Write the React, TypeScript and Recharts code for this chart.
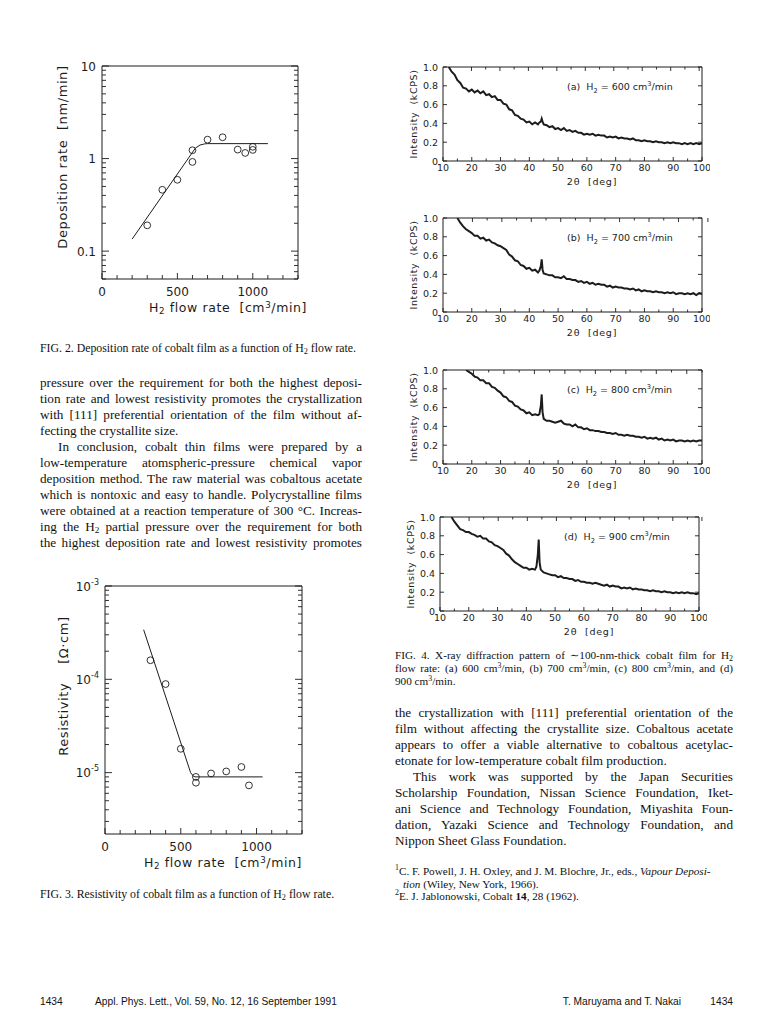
import React from 'react'
import { ComposedChart, LineChart, Line, Scatter, XAxis, YAxis } from 'recharts'

const INK = '#1c1c1c'
const SANS = '"DejaVu Sans", Verdana, sans-serif'
const SERIF = '"Liberation Serif", "Times New Roman", serif'
const FOOT = '"Liberation Sans", Arial, sans-serif'

// FIG. 2 – deposition rate vs H2 flow rate
const depFlow = [300, 400, 500, 600, 600, 700, 800, 900, 950, 1000, 1000]
const depRate = [0.19, 0.46, 0.59, 1.23, 0.92, 1.6, 1.7, 1.25, 1.15, 1.24, 1.34]
const depFitFlow = [200, 620, 650, 680, 700, 1100]
const depFitRate = [0.135, 1.3, 1.4, 1.44, 1.45, 1.45]
const depTicks = [0.05, 0.06, 0.07, 0.08, 0.09, 0.1, 0.2, 0.3, 0.4, 0.5, 0.6, 0.7, 0.8, 0.9, 1, 2, 3, 4, 5, 6, 7, 8, 9, 10]
const depLabels = [0.1, 1, 10]

// FIG. 3 – resistivity vs H2 flow rate
const resFlow = [300, 400, 500, 600, 600, 700, 800, 900, 950]
const resVal = [1.6e-4, 8.9e-5, 1.8e-5, 9.0e-6, 7.8e-6, 9.8e-6, 1.03e-5, 1.15e-5, 7.3e-6]
const resFitFlow = [255, 565, 585, 600, 1040]
const resFitVal = [3.4e-4, 1.0e-5, 9.1e-6, 9.0e-6, 9.0e-6]
const resTicks = [3e-6, 4e-6, 5e-6, 6e-6, 7e-6, 8e-6, 9e-6, 1e-5, 2e-5, 3e-5, 4e-5, 5e-5, 6e-5, 7e-5, 8e-5, 9e-5, 1e-4, 2e-4, 3e-4, 4e-4, 5e-4, 6e-4, 7e-4, 8e-4, 9e-4, 1e-3]
const resLabels = [1e-5, 1e-4, 1e-3]

const flowTicks = [0, 100, 200, 300, 400, 500, 600, 700, 800, 900, 1000, 1100, 1200, 1300]
const flowLabels = [0, 500, 1000]

// FIG. 4 – XRD patterns, [2θ (deg), intensity (kCPS)]
const xrdA: [number, number][] = [
  [12, 1.0], [13, 0.95], [14, 0.92], [15, 0.86], [16, 0.83], [17, 0.78], [18, 0.77], [19, 0.74], [20, 0.76], [21, 0.73],
  [22, 0.75], [23, 0.72], [24, 0.74], [25, 0.7], [26, 0.71], [27, 0.68], [28, 0.69], [29, 0.65], [30, 0.65], [31, 0.61],
  [32, 0.6], [33, 0.55], [34, 0.54], [35, 0.49], [36, 0.48], [37, 0.45], [38, 0.44], [39, 0.41], [40, 0.42], [41, 0.39],
  [42, 0.41], [43, 0.39], [43.5, 0.41], [44, 0.42], [44.3, 0.45], [44.6, 0.42], [45, 0.39], [46, 0.38], [47, 0.36], [48, 0.37],
  [49, 0.34], [50, 0.35], [51, 0.33], [52, 0.35], [53, 0.32], [54, 0.33], [55, 0.31], [56, 0.32], [57, 0.3], [58, 0.3],
  [59, 0.28], [60, 0.29], [61, 0.28], [62, 0.29], [63, 0.27], [64, 0.28], [65, 0.27], [66, 0.27], [67, 0.25], [68, 0.26],
  [69, 0.25], [70, 0.26], [71, 0.24], [72, 0.25], [73, 0.24], [74, 0.24], [75, 0.23], [76, 0.24], [77, 0.22], [78, 0.22],
  [79, 0.21], [80, 0.22], [81, 0.21], [82, 0.21], [83, 0.2], [84, 0.21], [85, 0.2], [86, 0.2], [87, 0.19], [88, 0.2],
  [89, 0.19], [90, 0.2], [91, 0.19], [92, 0.19], [93, 0.18], [94, 0.19], [95, 0.18], [96, 0.19], [97, 0.18], [98, 0.19],
  [99, 0.18], [100, 0.19],
]
const xrdB: [number, number][] = [
  [15, 1.0], [16, 0.95], [17, 0.91], [18, 0.88], [19, 0.86], [20, 0.84], [21, 0.81], [22, 0.81], [23, 0.78], [24, 0.79],
  [25, 0.76], [26, 0.77], [27, 0.74], [28, 0.73], [29, 0.71], [30, 0.7], [31, 0.68], [32, 0.66], [33, 0.61], [34, 0.59],
  [35, 0.55], [36, 0.54], [37, 0.5], [38, 0.49], [39, 0.46], [40, 0.47], [41, 0.44], [42, 0.45], [43, 0.42], [43.5, 0.44],
  [44, 0.49], [44.3, 0.56], [44.6, 0.45], [45, 0.41], [46, 0.4], [47, 0.39], [48, 0.39], [49, 0.37], [50, 0.37], [51, 0.36],
  [52, 0.38], [53, 0.35], [54, 0.35], [55, 0.34], [56, 0.34], [57, 0.32], [58, 0.33], [59, 0.31], [60, 0.32], [61, 0.3],
  [62, 0.31], [63, 0.29], [64, 0.3], [65, 0.29], [66, 0.29], [67, 0.27], [68, 0.28], [69, 0.26], [70, 0.27], [71, 0.26],
  [72, 0.26], [73, 0.25], [74, 0.25], [75, 0.24], [76, 0.25], [77, 0.23], [78, 0.24], [79, 0.22], [80, 0.23], [81, 0.22],
  [82, 0.22], [83, 0.21], [84, 0.22], [85, 0.21], [86, 0.21], [87, 0.2], [88, 0.21], [89, 0.2], [90, 0.21], [91, 0.19],
  [92, 0.2], [93, 0.2], [94, 0.19], [95, 0.2], [96, 0.19], [97, 0.2], [98, 0.18], [99, 0.2], [100, 0.19],
]
const xrdC: [number, number][] = [
  [18, 1.0], [19, 0.98], [20, 0.96], [21, 0.93], [22, 0.92], [23, 0.89], [24, 0.89], [25, 0.86], [26, 0.86], [27, 0.82],
  [28, 0.81], [29, 0.78], [30, 0.76], [31, 0.72], [32, 0.71], [33, 0.67], [34, 0.66], [35, 0.62], [36, 0.61], [37, 0.58],
  [38, 0.57], [39, 0.54], [40, 0.55], [41, 0.52], [42, 0.53], [43, 0.52], [43.5, 0.53], [44, 0.62], [44.3, 0.74], [44.6, 0.55],
  [45, 0.48], [46, 0.46], [47, 0.46], [48, 0.45], [49, 0.44], [50, 0.45], [51, 0.46], [52, 0.43], [53, 0.42], [54, 0.42],
  [55, 0.4], [56, 0.42], [57, 0.39], [58, 0.39], [59, 0.37], [60, 0.38], [61, 0.36], [62, 0.36], [63, 0.35], [64, 0.35],
  [65, 0.34], [66, 0.34], [67, 0.33], [68, 0.33], [69, 0.32], [70, 0.33], [71, 0.31], [72, 0.31], [73, 0.3], [74, 0.31],
  [75, 0.3], [76, 0.3], [77, 0.29], [78, 0.29], [79, 0.28], [80, 0.29], [81, 0.27], [82, 0.28], [83, 0.27], [84, 0.28],
  [85, 0.26], [86, 0.27], [87, 0.25], [88, 0.26], [89, 0.25], [90, 0.26], [91, 0.24], [92, 0.25], [93, 0.25], [94, 0.24],
  [95, 0.25], [96, 0.24], [97, 0.25], [98, 0.24], [99, 0.25], [100, 0.25],
]
const xrdD: [number, number][] = [
  [14, 1.0], [15, 0.95], [16, 0.91], [17, 0.87], [18, 0.86], [19, 0.84], [20, 0.84], [21, 0.82], [22, 0.81], [23, 0.79],
  [24, 0.8], [25, 0.77], [26, 0.77], [27, 0.74], [28, 0.73], [29, 0.7], [30, 0.69], [31, 0.67], [32, 0.65], [33, 0.61],
  [34, 0.59], [35, 0.55], [36, 0.52], [37, 0.5], [38, 0.48], [39, 0.46], [40, 0.46], [41, 0.44], [42, 0.45], [43, 0.44],
  [43.5, 0.47], [44, 0.6], [44.3, 0.76], [44.6, 0.52], [45, 0.44], [46, 0.41], [47, 0.4], [48, 0.39], [49, 0.38], [50, 0.38],
  [51, 0.36], [52, 0.37], [53, 0.35], [54, 0.35], [55, 0.34], [56, 0.34], [57, 0.32], [58, 0.33], [59, 0.31], [60, 0.31],
  [61, 0.3], [62, 0.3], [63, 0.29], [64, 0.3], [65, 0.29], [66, 0.28], [67, 0.27], [68, 0.28], [69, 0.26], [70, 0.27],
  [71, 0.26], [72, 0.26], [73, 0.24], [74, 0.25], [75, 0.24], [76, 0.25], [77, 0.23], [78, 0.24], [79, 0.23], [80, 0.23],
  [81, 0.22], [82, 0.22], [83, 0.21], [84, 0.22], [85, 0.21], [86, 0.21], [87, 0.2], [88, 0.21], [89, 0.2], [90, 0.2],
  [91, 0.19], [92, 0.2], [93, 0.19], [94, 0.2], [95, 0.19], [96, 0.2], [97, 0.19], [98, 0.19], [99, 0.18], [100, 0.19],
]
const xrdTags = ['(a)', '(b)', '(c)', '(d)']
const xrdFlows = [600, 700, 800, 900]
const thetaTicks = [10, 15, 20, 25, 30, 35, 40, 45, 50, 55, 60, 65, 70, 75, 80, 85, 90, 95, 100]
const intTicks = [0, 0.2, 0.4, 0.6, 0.8, 1.0]

// page text
const leftLines = [
  'pressure over the requirement for both the highest deposi-',
  'tion rate and lowest resistivity promotes the crystallization',
  'with [111] preferential orientation of the film without af-',
  '|fecting the crystallite size.',
  '>In conclusion, cobalt thin films were prepared by a',
  'low-temperature atomspheric-pressure chemical vapor',
  'deposition method. The raw material was cobaltous acetate',
  'which is nontoxic and easy to handle. Polycrystalline films',
  'were obtained at a reaction temperature of 300 °C. Increas-',
  'ing the H₂ partial pressure over the requirement for both',
  'the highest deposition rate and lowest resistivity promotes',
]
const rightLines = [
  'the crystallization with [111] preferential orientation of the',
  'film without affecting the crystallite size. Cobaltous acetate',
  'appears to offer a viable alternative to cobaltous acetylac-',
  '|etonate for low-temperature cobalt film production.',
  '>This work was supported by the Japan Securities',
  'Scholarship Foundation, Nissan Science Foundation, Iket-',
  'ani Science and Technology Foundation, Miyashita Foun-',
  'dation, Yazaki Science and Technology Foundation, and',
  '|Nippon Sheet Glass Foundation.',
]
const fig4Caption = [
  'FIG. 4. X-ray diffraction pattern of ∼100-nm-thick cobalt film for H₂',
  'flow rate: (a) 600 cm³/min, (b) 700 cm³/min, (c) 800 cm³/min, and (d)',
  '|900 cm³/min.',
]

// render ₂ and ³ as real sub/superscripts
function rich(s: string) {
  const parts = s.split(/([₂³])/)
  return parts.map((p, i) =>
    p === '₂' ? <sub key={i} style={{ fontSize: '0.7em', verticalAlign: '-0.25em', lineHeight: 0 }}>2</sub>
    : p === '³' ? <sup key={i} style={{ fontSize: '0.7em', verticalAlign: '0.45em', lineHeight: 0 }}>3</sup>
    : <React.Fragment key={i}>{p}</React.Fragment>
  )
}

type Side = 'bottom' | 'top' | 'left' | 'right'
type LabelFn = (v: number, x: number, y: number) => React.ReactNode

// inward tick marks drawn by hand, label optional
function tickMaker(side: Side, lenOf: (v: number) => number, labelOf?: LabelFn) {
  return (p: any) => {
    const v = p.payload.value as number
    const L = lenOf(v)
    const x = p.x as number
    const y = p.y as number
    const ln =
      side === 'bottom' ? [x, y, x, y - L]
      : side === 'top' ? [x, y, x, y + L]
      : side === 'left' ? [x, y, x + L, y]
      : [x, y, x - L, y]
    return (
      <g>
        <line x1={ln[0]} y1={ln[1]} x2={ln[2]} y2={ln[3]} stroke={INK} strokeWidth={0.9} />
        {labelOf ? labelOf(v, x, y) : null}
      </g>
    )
  }
}

const axisProps = { tickSize: 0, tickMargin: 0, interval: 0 as const, allowDataOverflow: true, stroke: INK }

function Abs({ x, y, children, style }: { x: number; y: number; children: React.ReactNode; style?: React.CSSProperties }) {
  return <div style={{ position: 'absolute', left: x, top: y, whiteSpace: 'pre', ...style }}>{children}</div>
}

function VTitle({ cx, cy, size, children }: { cx: number; cy: number; size: number; children: React.ReactNode }) {
  return (
    <div style={{ position: 'absolute', left: cx, top: cy, transform: 'translate(-50%, -50%) rotate(-90deg)', whiteSpace: 'pre', fontFamily: SANS, fontSize: size, color: INK, letterSpacing: 0.6 }}>
      {children}
    </div>
  )
}

const flowLabel: LabelFn = (v, x, y) =>
  flowLabels.includes(v) ? <text x={x} y={y + 17} textAnchor="middle" fontSize={12} fontFamily={SANS} fill={INK}>{v}</text> : null

function FlowChart(props: {
  left: number; top: number; width: number; height: number; yAxisW: number; right: number; xAxisH: number
  domain: [number, number]; ticks: number[]; isMajor: (v: number) => boolean; yLabel: LabelFn
  pts: { x: number; y: number }[]; fit: { x: number; y: number }[]
}) {
  const yLen = (v: number) => (props.isMajor(v) ? 7 : 4)
  const xLen = (v: number) => (v % 500 === 0 ? 6 : 4)
  return (
    <div style={{ position: 'absolute', left: props.left, top: props.top }}>
      <ComposedChart width={props.width} height={props.height} margin={{ top: 15, right: props.right, bottom: 1, left: 0 }}>
        <XAxis dataKey="x" type="number" domain={[0, 1300]} ticks={flowTicks} height={props.xAxisH} {...axisProps} tick={tickMaker('bottom', xLen, flowLabel)} />
        <XAxis xAxisId="top" orientation="top" type="number" domain={[0, 1300]} ticks={flowTicks} height={1} {...axisProps} tick={tickMaker('top', xLen)} />
        <YAxis dataKey="y" type="number" scale="log" domain={props.domain} ticks={props.ticks} width={props.yAxisW} {...axisProps} tick={tickMaker('left', yLen, props.yLabel)} />
        <YAxis yAxisId="right" orientation="right" type="number" scale="log" domain={props.domain} ticks={props.ticks} width={1} {...axisProps} tick={tickMaker('right', yLen)} />
        <Line data={props.fit} dataKey="y" type="linear" stroke={INK} strokeWidth={1} dot={false} isAnimationActive={false} />
        <Scatter data={props.pts} dataKey="y" isAnimationActive={false}
          shape={(p: any) => <circle cx={p.cx} cy={p.cy} r={3.4} fill="none" stroke={INK} strokeWidth={0.9} />} />
      </ComposedChart>
    </div>
  )
}

const thetaLabel: LabelFn = (v, x, y) =>
  v % 10 === 0 ? <text x={x} y={y + 10} textAnchor="middle" fontSize={9.5} fontFamily={SANS} fill={INK}>{v}</text> : null
const intLabel: LabelFn = (v, x, y) =>
  <text x={x - 5} y={y + 3.5} textAnchor="end" fontSize={9.5} fontFamily={SANS} fill={INK}>{v === 0 ? '0' : v.toFixed(1)}</text>

function XrdPanel({ pairs, left, top, idx }: { pairs: [number, number][]; left: number; top: number; idx: number }) {
  const rows = pairs.map(([t, v]) => ({ t, v }))
  const xLen = (v: number) => (v % 10 === 0 ? 4 : 2.5)
  return (
    <>
      <div style={{ position: 'absolute', left, top }}>
        <LineChart width={310} height={125} data={rows} margin={{ top: 5, right: 7, bottom: 16, left: 0 }}>
          <XAxis dataKey="t" type="number" domain={[10, 100]} ticks={thetaTicks} height={9} {...axisProps} tick={tickMaker('bottom', xLen, thetaLabel)} />
          <XAxis xAxisId="top" orientation="top" type="number" domain={[10, 100]} ticks={thetaTicks} height={1} {...axisProps} tick={tickMaker('top', xLen)} />
          <YAxis type="number" domain={[0, 1]} ticks={intTicks} width={43} {...axisProps} tick={tickMaker('left', () => 4, intLabel)} />
          <YAxis yAxisId="right" orientation="right" type="number" domain={[0, 1]} ticks={intTicks} width={1} {...axisProps} tick={tickMaker('right', () => 4)} />
          <Line dataKey="v" type="linear" stroke={INK} strokeWidth={2} strokeLinejoin="miter" dot={false} isAnimationActive={false} />
        </LineChart>
      </div>
      <Abs x={left + 167} y={top + 20} style={{ fontFamily: SANS, fontSize: 9.5, color: INK }}>
        {xrdTags[idx]}{'  H'}<sub style={{ fontSize: '0.7em', lineHeight: 0 }}>2</sub>{` = ${xrdFlows[idx]} cm`}<sup style={{ fontSize: '0.7em', lineHeight: 0 }}>3</sup>/min
      </Abs>
      <VTitle cx={left + 13} cy={top + 53} size={9.5}>{'Intensity  (kCPS)'}</VTitle>
      <Abs x={left + 192} y={top + 115} style={{ fontFamily: SANS, fontSize: 9.5, color: INK, letterSpacing: 0.8, transform: 'translateX(-50%)' }}>
        {'2θ  [deg]'}
      </Abs>
    </>
  )
}

function TextBlock({ lines, x, y, width, size, lh, indent }: { lines: string[]; x: number; y: number; width: number; size: number; lh: number; indent: number }) {
  return (
    <div style={{ position: 'absolute', left: x, top: y, width, fontFamily: SERIF, fontSize: size, lineHeight: `${lh}px`, color: '#111' }}>
      {lines.map((raw, i) => {
        const last = raw.startsWith('|')
        const ind = raw.startsWith('>')
        const s = last || ind ? raw.slice(1) : raw
        return (
          <div key={i} style={{ whiteSpace: 'nowrap', textAlign: last ? 'left' : 'justify', textAlignLast: last ? 'left' : 'justify', paddingLeft: ind ? indent : 0, height: lh }}>
            {rich(s)}
          </div>
        )
      })}
    </div>
  )
}

export default function App() {
  const depPts = depFlow.map((x, i) => ({ x, y: depRate[i] }))
  const depFit = depFitFlow.map((x, i) => ({ x, y: depFitRate[i] }))
  const resPts = resFlow.map((x, i) => ({ x, y: resVal[i] }))
  const resFit = resFitFlow.map((x, i) => ({ x, y: resFitVal[i] }))

  const depYLabel: LabelFn = (v, x, y) =>
    depLabels.includes(v) ? <text x={x - 6} y={y + 4.5} textAnchor="end" fontSize={12} fontFamily={SANS} fill={INK}>{v}</text> : null
  const resYLabel: LabelFn = (v, x, y) =>
    resLabels.includes(v) ? (
      <text x={x - 6} y={y + 4.5} textAnchor="end" fontSize={12} fontFamily={SANS} fill={INK}>
        10<tspan dy={-6} fontSize={8}>{String(Math.round(Math.log10(v)))}</tspan>
      </text>
    ) : null

  const capStyle: React.CSSProperties = { fontFamily: SERIF, fontSize: 11.8, color: '#111' }
  const footStyle: React.CSSProperties = { fontFamily: FOOT, fontSize: 10.2, color: '#111' }

  return (
    <div style={{ position: 'absolute', left: 0, top: 0, width: 768, height: 1035, background: '#fff', overflow: 'hidden' }}>
      {/* FIG. 2 */}
      <FlowChart left={40} top={50} width={270} height={270} yAxisW={62} right={11} xAxisH={40}
        domain={[0.05, 10]} ticks={depTicks} isMajor={(v) => depLabels.includes(v)} yLabel={depYLabel} pts={depPts} fit={depFit} />
      <VTitle cx={62} cy={157} size={13}>{'Deposition rate  [nm/min]'}</VTitle>
      <Abs x={228} y={300} style={{ fontFamily: SANS, fontSize: 12.5, color: INK, letterSpacing: 0.6, transform: 'translateX(-50%)' }}>
        {rich('H₂ flow rate  [cm³/min]')}
      </Abs>
      <Abs x={40} y={341} style={capStyle}>
        {rich('FIG. 2. Deposition rate of cobalt film as a function of H₂ flow rate.')}
      </Abs>

      <TextBlock lines={leftLines} x={40} y={375} width={322} size={13.2} lh={16} indent={18} />

      {/* FIG. 3 */}
      <FlowChart left={40} top={570} width={270} height={300} yAxisW={65} right={7} xAxisH={35}
        domain={[2.2e-6, 1e-3]} ticks={resTicks} isMajor={(v) => resLabels.includes(v)} yLabel={resYLabel} pts={resPts} fit={resFit} />
      <VTitle cx={63} cy={686} size={13}>{'Resistivity    [Ω·cm]'}</VTitle>
      <Abs x={223} y={855} style={{ fontFamily: SANS, fontSize: 12.5, color: INK, letterSpacing: 0.6, transform: 'translateX(-50%)' }}>
        {rich('H₂ flow rate  [cm³/min]')}
      </Abs>
      <Abs x={40} y={887} style={capStyle}>
        {rich('FIG. 3. Resistivity of cobalt film as a function of H₂ flow rate.')}
      </Abs>

      {/* FIG. 4 */}
      <XrdPanel pairs={xrdA} left={400} top={61} idx={0} />
      <XrdPanel pairs={xrdB} left={400} top={212} idx={1} />
      <XrdPanel pairs={xrdC} left={400} top={364} idx={2} />
      <XrdPanel pairs={xrdD} left={397} top={511} idx={3} />
      <TextBlock lines={fig4Caption} x={395} y={649} width={338} size={11.2} lh={13} indent={0} />

      <TextBlock lines={rightLines} x={395} y={705} width={338} size={13.2} lh={16} indent={18} />

      <div style={{ position: 'absolute', left: 395, top: 865, fontFamily: SERIF, fontSize: 11.2, lineHeight: '12.7px', color: '#111', whiteSpace: 'pre' }}>
        <div><sup style={{ fontSize: '0.7em', lineHeight: 0 }}>1</sup>C. F. Powell, J. H. Oxley, and J. M. Blochre, Jr., eds., <i>Vapour Deposi-</i></div>
        <div style={{ paddingLeft: 8 }}><i>tion</i> (Wiley, New York, 1966).</div>
        <div><sup style={{ fontSize: '0.7em', lineHeight: 0 }}>2</sup>E. J. Jablonowski, Cobalt <b>14</b>, 28 (1962).</div>
      </div>

      {/* footer */}
      <Abs x={40} y={996} style={footStyle}>1434</Abs>
      <Abs x={95} y={996} style={footStyle}>Appl. Phys. Lett., Vol. 59, No. 12, 16 September 1991</Abs>
      <Abs x={681} y={996} style={{ ...footStyle, transform: 'translateX(-100%)' }}>T. Maruyama and T. Nakai</Abs>
      <Abs x={733} y={996} style={{ ...footStyle, transform: 'translateX(-100%)' }}>1434</Abs>
    </div>
  )
}
